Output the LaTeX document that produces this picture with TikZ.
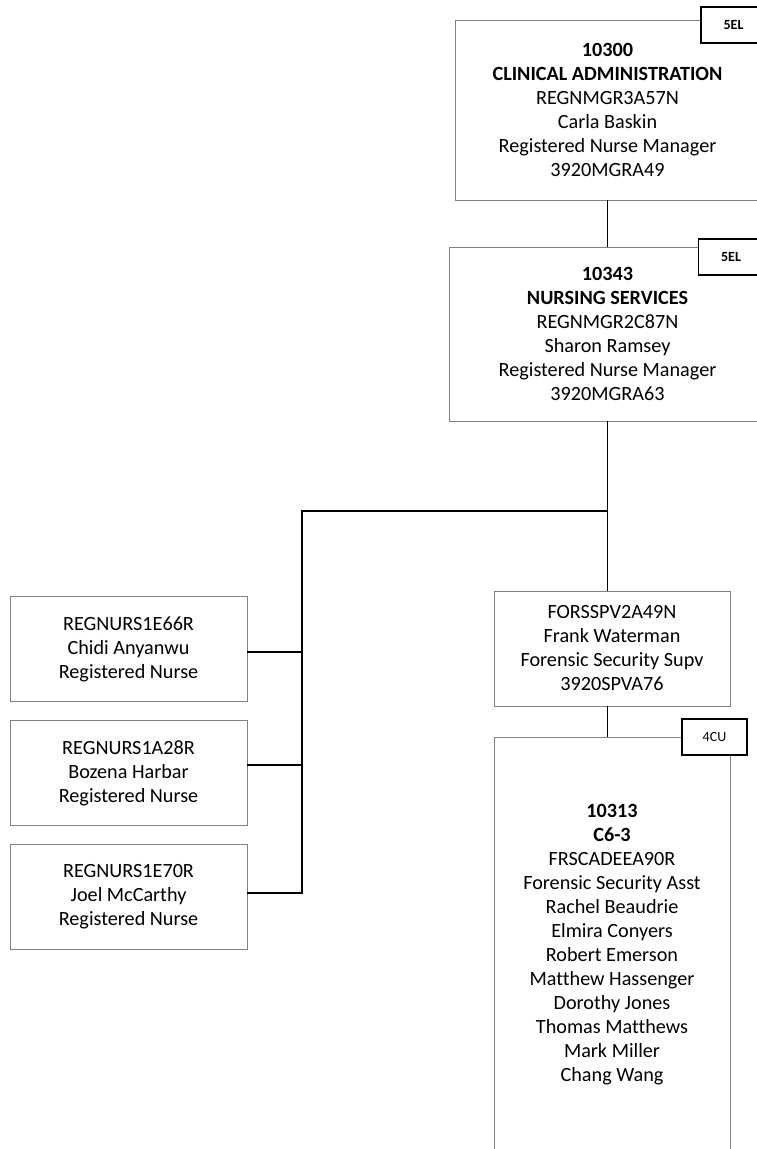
\documentclass[tikz,border=0pt]{standalone}
\usepackage{fontspec}
\setmainfont[Ligatures=NoCommon]{Carlito}
\usetikzlibrary{positioning}
\definecolor{boxgray}{RGB}{128,128,128}

\begin{document}
\begin{tikzpicture}[x=1pt, y=-1pt,
    node distance=19pt,
    unit/.style={rectangle, draw=boxgray, line width=0.9pt, align=center,
                 inner sep=0pt, outer sep=0pt, font=\fontsize{20.2}{24}\selectfont},
    nurse/.style={unit, minimum width=237pt, minimum height=105pt},
    tag/.style={rectangle, draw=black, line width=1.6pt, fill=white,
                minimum width=65pt, minimum height=36pt, inner sep=0pt,
                font=\fontsize{14}{16}\selectfont},
    link/.style={draw=black, line width=1.6pt}
  ]
    \useasboundingbox (0,0) rectangle (757,1149);
    \clip (0,0) rectangle (757,1149);

    \node[unit, minimum width=305pt, minimum height=180pt] (admin) at (607.5,110)
      {\textbf{10300}\\\textbf{CLINICAL ADMINISTRATION}\\REGNMGR3A57N\\Carla Baskin\\Registered Nurse Manager\\3920MGRA49};
    \node[unit, minimum width=316pt, minimum height=174pt, below=47pt of admin] (nursing)
      {\textbf{10343}\\\textbf{NURSING SERVICES}\\REGNMGR2C87N\\Sharon Ramsey\\Registered Nurse Manager\\3920MGRA63};
    \node[unit, minimum width=236pt, minimum height=115pt] (forssupv) at (612,648.5)
      {FORSSPV2A49N\\Frank Waterman\\Forensic Security Supv\\3920SPVA76};
    \node[unit, minimum width=236pt, minimum height=415pt, below=31pt of forssupv] (cunit)
      {\textbf{10313}\\\textbf{C6-3}\\FRSCADEEA90R\\Forensic Security Asst\\Rachel Beaudrie\\Elmira Conyers\\Robert Emerson\\Matthew Hassenger\\Dorothy Jones\\Thomas Matthews\\Mark Miller\\Chang Wang};
    \node[nurse] (nurse1) at (128.5,649) {REGNURS1E66R\\Chidi Anyanwu\\Registered Nurse};
    \node[nurse, below=of nurse1] (nurse2) {REGNURS1A28R\\Bozena Harbar\\Registered Nurse};
    \node[nurse, below=of nurse2] (nurse3) {REGNURS1E70R\\Joel McCarthy\\Registered Nurse};

    % connectors
    \coordinate (split) at (607.5,511);
    \coordinate (spine) at (302,511);
    \coordinate (tee1) at ([yshift=-3pt]nurse1.east);
    \coordinate (tee2) at ([yshift=8pt]nurse2.east);
    \coordinate (tee3) at ([yshift=4pt]nurse3.east);
    \draw[link] (admin.south) -- (nursing.north);
    \draw[link] (nursing.south) -- (nursing.south |- forssupv.north);
    \draw[link] (forssupv.south -| nursing.south) -- (cunit.north -| nursing.south);
    \draw[link] (split) -- (spine) -- (spine |- tee3) -- (tee3);
    \draw[link] (tee1) -- (spine |- tee1);
    \draw[link] (tee2) -- (spine |- tee2);

    % grade tags
    \node[tag, font=\bfseries\fontsize{14}{16}\selectfont] (tagadmin) at (733.5,25) {5EL};
    \node[tag, font=\bfseries\fontsize{14}{16}\selectfont] (tagnursing) at (731,257) {5EL};
    \node[tag] (tagcunit) at (714.5,737) {4CU};
\end{tikzpicture}
\end{document}
